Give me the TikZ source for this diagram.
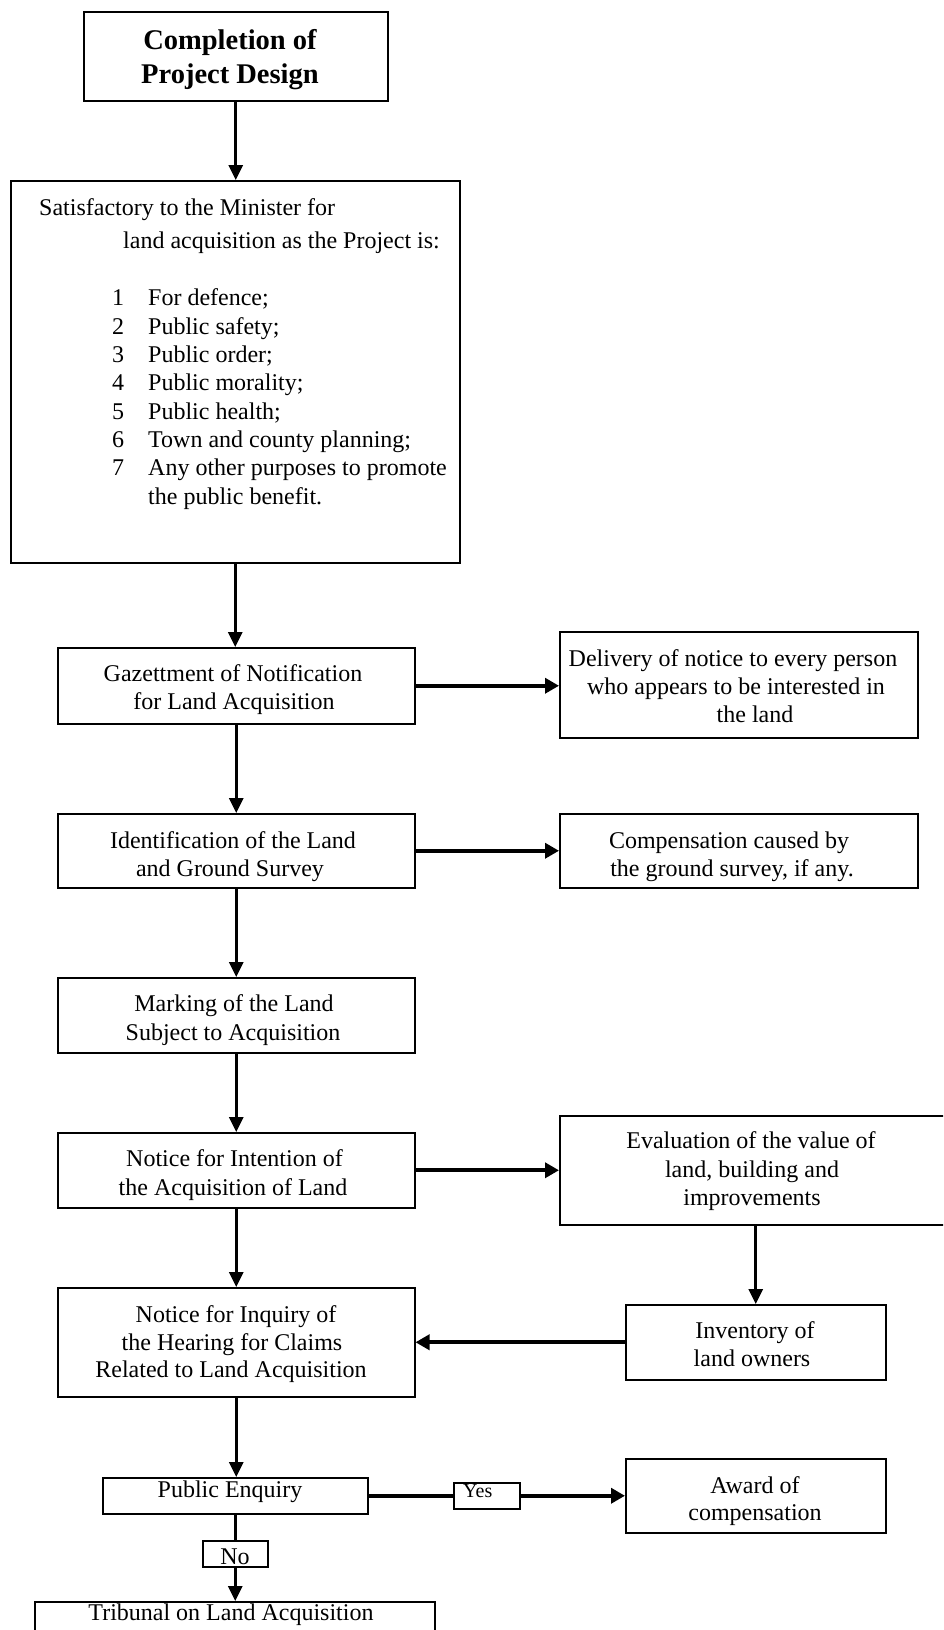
\documentclass[tikz,border=0pt]{standalone}
\usepackage{fontspec}
\setmainfont{Liberation Serif}
\usetikzlibrary{arrows.meta}
\begin{document}
\begin{tikzpicture}[x=1pt,y=-1pt,
  box/.style={draw, line width=1.5pt, fill=white, inner sep=0pt, anchor=north west},
  txt/.style={font=\fontsize{24}{28}\selectfont, inner sep=0pt, anchor=base},
  ltxt/.style={txt, anchor=base west},
  btxt/.style={font=\fontsize{28.5}{34}\selectfont\bfseries, inner sep=0pt, anchor=base},
  varrow/.style={line width=3pt, -{Triangle[length=15pt,width=14pt]}},
  harrow/.style={line width=4pt, -{Triangle[length=14pt,width=15pt]}}]
\useasboundingbox (0,0) rectangle (943,1630);
\clip (0,0) rectangle (943,1630);

% boxes
\node[box, minimum width=304pt, minimum height=89pt] (top) at (83,11) {};
\node[box, minimum width=449pt, minimum height=382pt] (sat) at (10,180) {};
\node[box, minimum width=357pt, minimum height=76pt] (gaz) at (57,647) {};
\node[box, minimum width=358pt, minimum height=106pt] (del) at (559,631) {};
\node[box, minimum width=357pt, minimum height=74pt] (ident) at (57,813) {};
\node[box, minimum width=358pt, minimum height=74pt] (comp) at (559,813) {};
\node[box, minimum width=357pt, minimum height=75pt] (mark) at (57,977) {};
\node[box, minimum width=357pt, minimum height=75pt] (noti) at (57,1132) {};
\node[box, minimum width=401pt, minimum height=109pt] (eval) at (559,1115) {};
\node[box, minimum width=260pt, minimum height=75pt] (inv) at (625,1304) {};
\node[box, minimum width=357pt, minimum height=109pt] (inq) at (57,1287) {};
\node[box, minimum width=265pt, minimum height=36pt] (pe) at (102,1477) {};
\node[box, minimum width=260pt, minimum height=74pt] (award) at (625,1458) {};
\node[box, minimum width=400pt, minimum height=60pt] (trib) at (34,1601) {};

% connectors
\draw[varrow] (top) -- (top |- sat.north);
\draw[varrow] (sat) -- (sat |- gaz.north);
\draw[harrow] (gaz) -- (gaz -| del.west);
\draw[varrow] (gaz) -- (gaz |- ident.north);
\draw[harrow] (ident) -- (ident -| comp.west);
\draw[varrow] (ident) -- (ident |- mark.north);
\draw[varrow] (mark) -- (mark |- noti.north);
\draw[harrow] (noti) -- (noti -| eval.west);
\draw[varrow] (inv |- eval.south) -- (inv);
\draw[harrow] (inv) -- (inv -| inq.east);
\draw[varrow] (noti) -- (noti |- inq.north);
\draw[varrow] (inq) -- (inq |- pe.north);
\draw[harrow] (pe) -- (pe -| award.west);
\draw[varrow] (pe) -- (pe |- trib.north);

% label boxes on the connectors
\node[box, minimum width=66pt, minimum height=26pt] (yes) at (453,1482) {};
\node[box, minimum width=65pt, minimum height=26pt] (no) at (202,1540) {};

% texts
\node[btxt] (t1a) at (230,49) {Completion of};
\node[btxt] (t1b) at (230,83) {Project Design};

\node[ltxt] (s1) at (39,215.5) {Satisfactory to the Minister for};
\node[ltxt] (s2) at (123,248.5) {land acquisition as the Project is:};
\foreach \n/\t/\yy in {1/For defence;/305.5, 2/Public safety;/334, 3/Public order;/362.3, 4/Public morality;/390.7, 5/Public health;/419, 6/Town and county planning;/447.3, 7/Any other purposes to promote/475.7}{
  \node[ltxt] (num\n) at (112,\yy) {\n};
  \node[ltxt] (item\n) at (148,\yy) {\t};
}
\node[ltxt] (item8) at (148,504) {the public benefit.};

\node[txt] (g1) at (233,681) {Gazettment of Notification};
\node[txt] (g2) at (234,709) {for Land Acquisition};

\node[txt] (d1) at (733,666) {Delivery of notice to every person};
\node[txt] (d2) at (736,694) {who appears to be interested in};
\node[txt] (d3) at (755,722) {the land};

\node[txt] (i1) at (233,848) {Identification of the Land};
\node[txt] (i2) at (230,876) {and Ground Survey};

\node[txt] (c1) at (729,848) {Compensation caused by};
\node[txt] (c2) at (732,876) {the ground survey, if any.};

\node[txt] (m1) at (234,1011) {Marking of the Land};
\node[txt] (m2) at (233,1040) {Subject to Acquisition};

\node[txt] (n1) at (234.5,1166) {Notice for Intention of};
\node[txt] (n2) at (233,1195) {the Acquisition of Land};

\node[txt] (e1) at (751,1148) {Evaluation of the value of};
\node[txt] (e2) at (752,1177) {land, building and};
\node[txt] (e3) at (752,1205) {improvements};

\node[txt] (v1) at (755,1338) {Inventory of};
\node[txt] (v2) at (752,1366) {land owners};

\node[txt] (q1) at (236,1322) {Notice for Inquiry of};
\node[txt] (q2) at (232,1350) {the Hearing for Claims};
\node[txt] (q3) at (231,1377) {Related to Land Acquisition};

\node[txt] (p1) at (230,1497) {Public Enquiry};
\node[ltxt, font=\fontsize{20}{24}\selectfont] (y1) at (463,1497) {Yes};
\node[txt] (no1) at (235,1564) {No};

\node[txt] (a1) at (755,1493) {Award of};
\node[txt] (a2) at (755,1520) {compensation};

\node[txt] (tr1) at (231,1620) {Tribunal on Land Acquisition};
\end{tikzpicture}
\end{document}
